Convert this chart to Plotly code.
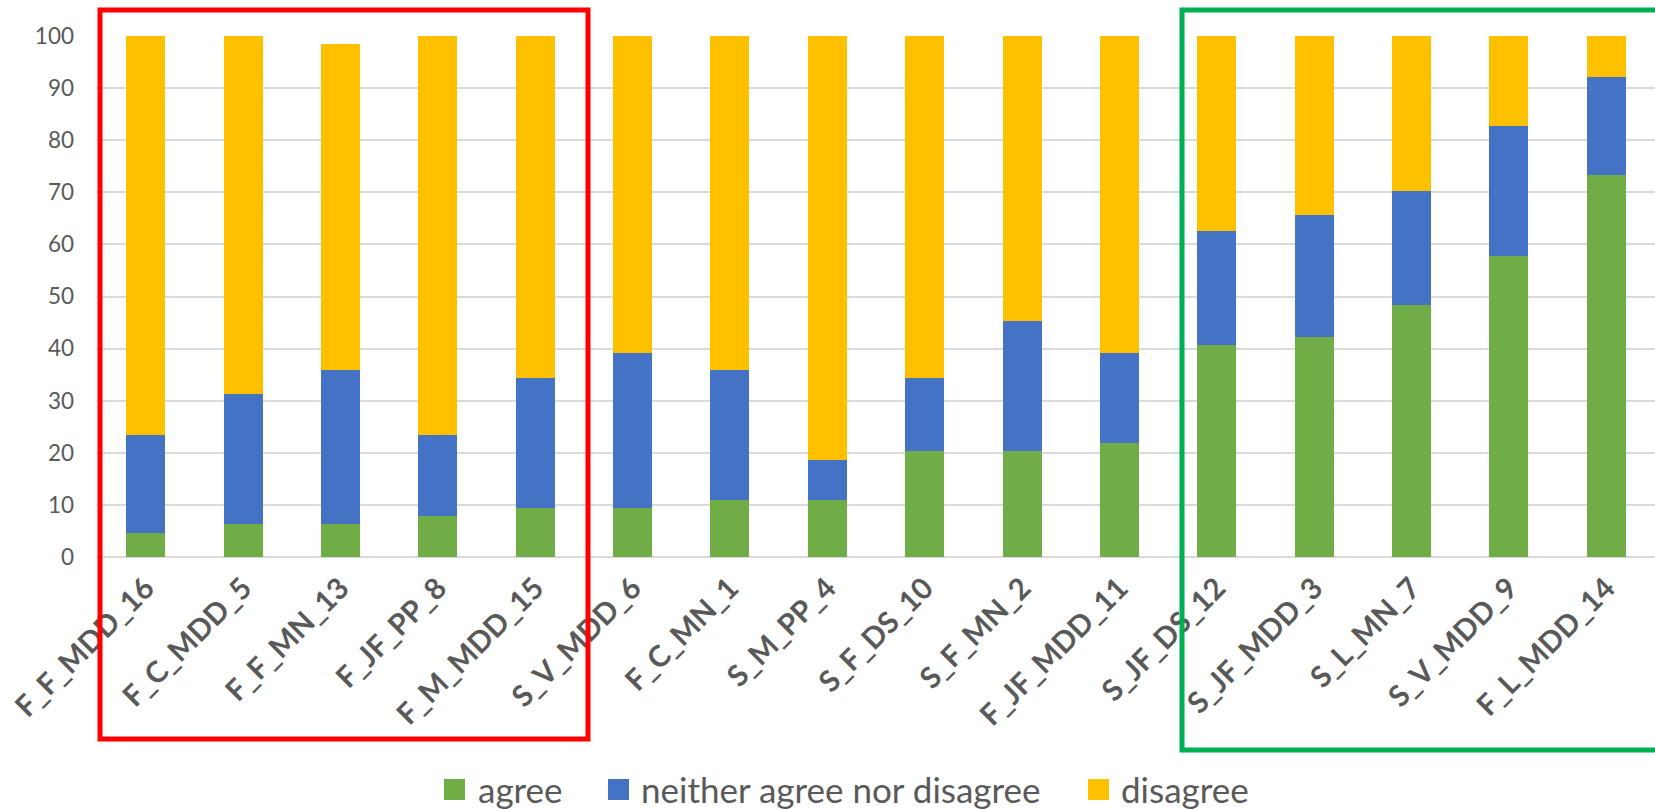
import plotly.graph_objects as go

categories = ["F_F_MDD_16", "F_C_MDD_5", "F_F_MN_13", "F_JF_PP_8", "F_M_MDD_15",
              "S_V_MDD_6", "F_C_MN_1", "S_M_PP_4", "S_F_DS_10", "S_F_MN_2",
              "F_JF_MDD_11", "S_JF_DS_12", "S_JF_MDD_3", "S_L_MN_7", "S_V_MDD_9",
              "F_L_MDD_14"]
agree = [4.7, 6.3, 6.3, 7.8, 9.4, 9.4, 10.9, 10.9, 20.3, 20.3, 21.9, 40.6, 42.2, 48.4, 57.8, 73.4]
neither = [18.8, 25.0, 29.6, 15.6, 25.0, 29.7, 25.0, 7.8, 14.1, 25.0, 17.2, 21.9, 23.4, 21.9, 25.0, 18.8]
disagree = [76.6, 68.8, 62.5, 76.6, 65.6, 61.0, 64.1, 81.3, 65.6, 54.7, 60.9, 37.5, 34.4, 29.7, 17.2, 7.8]
series_names = ["agree", "neither agree nor disagree", "disagree"]
colors = ["#70AD47", "#4472C4", "#FFC000"]
y_ticks = [0, 10, 20, 30, 40, 50, 60, 70, 80, 90, 100]

W, H = 1655, 809
ML, MR, MT, MB = 97, 0, 36, 252
PW = W - ML - MR
PH = H - MT - MB
FONT = "Lato"
GREY = "#595959"


def px_x(px):
    return (px - ML) / PW


def px_y(py):
    return (H - MB - py) / PH


fig = go.Figure()
for name, vals, col in zip(series_names, [agree, neither, disagree], colors):
    fig.add_trace(go.Bar(x=categories, y=vals, name=name,
                         marker=dict(color=col, line=dict(width=0)),
                         showlegend=False))

fig.update_layout(
    width=W, height=H,
    barmode="stack", bargap=0.6,
    plot_bgcolor="white", paper_bgcolor="white",
    margin=dict(l=ML, r=MR, t=MT, b=MB, pad=0),
    font=dict(family=FONT, color=GREY),
    xaxis=dict(tickangle=-45, tickfont=dict(family=FONT, size=29.5, color=GREY, weight="bold"),
               showgrid=False, showline=False, ticks="", ticklabelstandoff=7),
    yaxis=dict(range=[0, 100], tickvals=y_ticks, tickfont=dict(family=FONT, size=22.5, color=GREY),
               showgrid=True, gridcolor="#D9D9D9", gridwidth=1.5,
               zeroline=True, zerolinecolor="#D9D9D9", zerolinewidth=1.5,
               showline=False, ticks="", ticklabelstandoff=22),
)

# highlight boxes
fig.add_shape(type="rect", xref="paper", yref="paper",
              x0=px_x(100), x1=px_x(588), y0=px_y(739), y1=px_y(10),
              line=dict(color="#FF0000", width=5), fillcolor="rgba(0,0,0,0)", layer="above")
fig.add_shape(type="rect", xref="paper", yref="paper",
              x0=px_x(1182), x1=px_x(1675), y0=px_y(750), y1=px_y(10),
              line=dict(color="#00B050", width=5), fillcolor="rgba(0,0,0,0)", layer="above")

# legend
leg_sq = [444, 608, 1088]
leg_tx = [476, 639, 1119]
for name, col, sx, tx in zip(series_names, colors, leg_sq, leg_tx):
    fig.add_shape(type="rect", xref="paper", yref="paper",
                  x0=px_x(sx), x1=px_x(sx + 21), y0=px_y(800), y1=px_y(779),
                  line=dict(width=0), fillcolor=col)
    fig.add_annotation(xref="paper", yref="paper", x=px_x(tx), y=px_y(789),
                       xanchor="left", yanchor="middle", showarrow=False,
                       text=name, font=dict(family=FONT, size=35, color=GREY))

fig.write_html("out.html")
